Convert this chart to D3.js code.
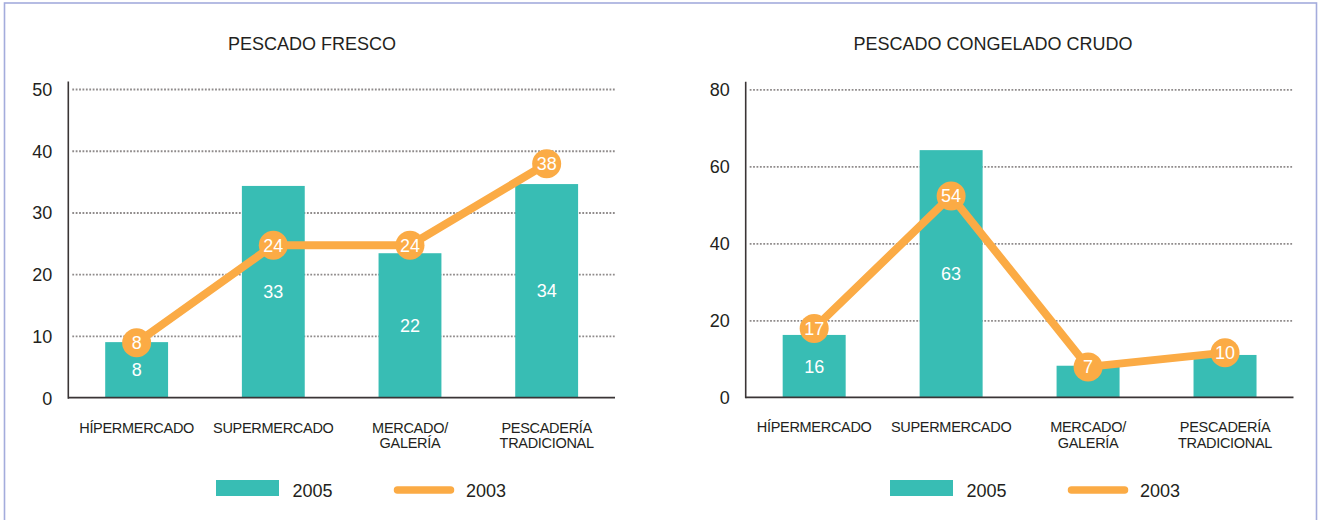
<!DOCTYPE html>
<html>
<head>
<meta charset="utf-8">
<script src="https://cdn.jsdelivr.net/npm/d3@7"></script>
<style>
  html, body { margin: 0; padding: 0; background: #fff; }
  svg { display: block; font-family: "Liberation Sans", Arial, Helvetica, sans-serif; }
</style>
</head>
<body>
<svg id="chart" width="1319" height="520"></svg>
<script>
// ---------- DATA ----------
const categories = ["HÍPERMERCADO", "SUPERMERCADO", "MERCADO/\nGALERÍA", "PESCADERÍA\nTRADICIONAL"];
const seriesNames = ["2005", "2003"];

const titles = ["PESCADO FRESCO", "PESCADO CONGELADO CRUDO"];

const fresco2005 = [9.0, 34.3, 23.4, 34.6];
const fresco2005Labels = ["8", "33", "22", "34"];
const fresco2003 = [8.9, 24.7, 24.7, 37.9];
const fresco2003Labels = ["8", "24", "24", "38"];

const congelado2005 = [16.2, 64.2, 8.2, 11.0];
const congelado2005Labels = ["16", "63", null, null];
const congelado2003 = [17.9, 52.3, 7.9, 11.6];
const congelado2003Labels = ["17", "54", "7", "10"];

const frescoTicks = [0, 10, 20, 30, 40, 50];
const congeladoTicks = [0, 20, 40, 60, 80];

// ---------- STYLE / LAYOUT ----------
const TEAL = "#38bdb4";
const ORANGE = "#fbab45";
const TEXT = "#231f20";

const panels = [
  { title: titles[0], titleX: 312, x0: 68.3, x1: 615, y0: 397.7, y1: 89, max: 50, ticks: frescoTicks,
    bars: fresco2005, barLabels: fresco2005Labels, line: fresco2003, lineLabels: fresco2003Labels, legendX: 216 },
  { title: titles[1], titleX: 993, x0: 745.7, x1: 1293.5, y0: 397.3, y1: 89.3, max: 80, ticks: congeladoTicks,
    bars: congelado2005, barLabels: congelado2005Labels, line: congelado2003, lineLabels: congelado2003Labels, legendX: 890 }
];

const svg = d3.select("#chart");

// frame
svg.append("rect").attr("x", 4.5).attr("y", 3).attr("width", 1312).attr("height", 540)
  .attr("fill", "none").attr("stroke", "#a4acdc").attr("stroke-width", 1.6);

panels.forEach(p => {
  const g = svg.append("g");
  const x = d3.scaleBand().domain(categories).range([p.x0, p.x1]).paddingInner(0.54).paddingOuter(0.27);
  const y = d3.scaleLinear().domain([0, p.max]).range([p.y0, p.y1]);

  // title
  g.append("text").attr("x", p.titleX).attr("y", 50).attr("text-anchor", "middle")
    .attr("font-size", 18).attr("fill", TEXT).text(p.title);

  // gridlines
  const grid = g.append("g").attr("transform", `translate(${p.x0},0)`)
    .call(d3.axisLeft(y).tickValues(p.ticks.filter(t => t > 0)).tickSize(-(p.x1 - p.x0)).tickFormat(""));
  grid.select(".domain").remove();
  grid.selectAll("line").attr("stroke", "#8f8b8b").attr("stroke-width", 1.8)
    .attr("stroke-dasharray", "1.8,1.6").attr("x1", 4);

  // tick labels
  const yAx = g.append("g").attr("transform", `translate(${p.x0},0)`)
    .call(d3.axisLeft(y).tickValues(p.ticks).tickSize(0).tickPadding(16));
  yAx.select(".domain").remove();
  yAx.selectAll("text").attr("font-size", 18).attr("fill", TEXT)
    .attr("font-family", "'Liberation Sans', Arial, sans-serif").attr("dy", "0.36em");

  // bars
  g.selectAll(".bar").data(p.bars).join("rect")
    .attr("x", (d, i) => x(categories[i]))
    .attr("y", d => y(d))
    .attr("width", x.bandwidth())
    .attr("height", d => y(0) - y(d))
    .attr("fill", TEAL);

  // bar labels
  g.selectAll(".blab").data(p.bars).join("text")
    .attr("x", (d, i) => x(categories[i]) + x.bandwidth() / 2)
    .attr("y", d => (y(d) + y(0)) / 2)
    .attr("dy", "0.36em").attr("text-anchor", "middle")
    .attr("font-size", 18).attr("fill", "#fff")
    .text((d, i) => p.barLabels[i] || "");

  // axes lines
  g.append("line").attr("x1", p.x0).attr("x2", p.x0).attr("y1", p.y1 - 7.5).attr("y2", p.y0 + 1)
    .attr("stroke", "#3a3536").attr("stroke-width", 1.6);
  g.append("line").attr("x1", p.x0).attr("x2", p.x1).attr("y1", p.y0).attr("y2", p.y0)
    .attr("stroke", "#3a3536").attr("stroke-width", 1.8);

  // category labels
  const xAx = g.append("g").attr("transform", `translate(0,${p.y0})`)
    .call(d3.axisBottom(x).tickSize(0).tickFormat(""));
  xAx.select(".domain").remove();
  xAx.selectAll(".tick").each(function (d) {
    const t = d3.select(this).append("text").attr("text-anchor", "middle")
      .attr("font-size", 14.5).attr("fill", TEXT).attr("y", 35).attr("letter-spacing", -0.3);
    d.split("\n").forEach((ln, k) => {
      t.append("tspan").attr("x", 0).attr("dy", k === 0 ? 0 : 15.5).text(ln);
    });
  });

  // line series
  const cx = i => x(categories[i]) + x.bandwidth() / 2;
  g.append("path").datum(p.line)
    .attr("d", d3.line().x((d, i) => cx(i)).y(d => y(d)))
    .attr("fill", "none").attr("stroke", ORANGE).attr("stroke-width", 8)
    .attr("stroke-linejoin", "round");
  g.selectAll(".dot").data(p.line).join("circle")
    .attr("cx", (d, i) => cx(i)).attr("cy", d => y(d)).attr("r", 14.5).attr("fill", ORANGE);
  g.selectAll(".dlab").data(p.line).join("text")
    .attr("x", (d, i) => cx(i)).attr("y", d => y(d)).attr("dy", "0.36em")
    .attr("text-anchor", "middle").attr("font-size", 18).attr("fill", "#fff")
    .text((d, i) => p.lineLabels[i]);

  // legend
  const lx = p.legendX;
  g.append("rect").attr("x", lx).attr("y", 480).attr("width", 63).attr("height", 16).attr("fill", TEAL);
  g.append("text").attr("x", lx + 76.5).attr("y", 496.5).attr("font-size", 18).attr("fill", TEXT).text(seriesNames[0]);
  g.append("line").attr("x1", lx + 181.5).attr("x2", lx + 234.5).attr("y1", 490).attr("y2", 490)
    .attr("stroke", ORANGE).attr("stroke-width", 7.5).attr("stroke-linecap", "round");
  g.append("text").attr("x", lx + 250).attr("y", 496.5).attr("font-size", 18).attr("fill", TEXT).text(seriesNames[1]);
});
</script>
</body>
</html>
